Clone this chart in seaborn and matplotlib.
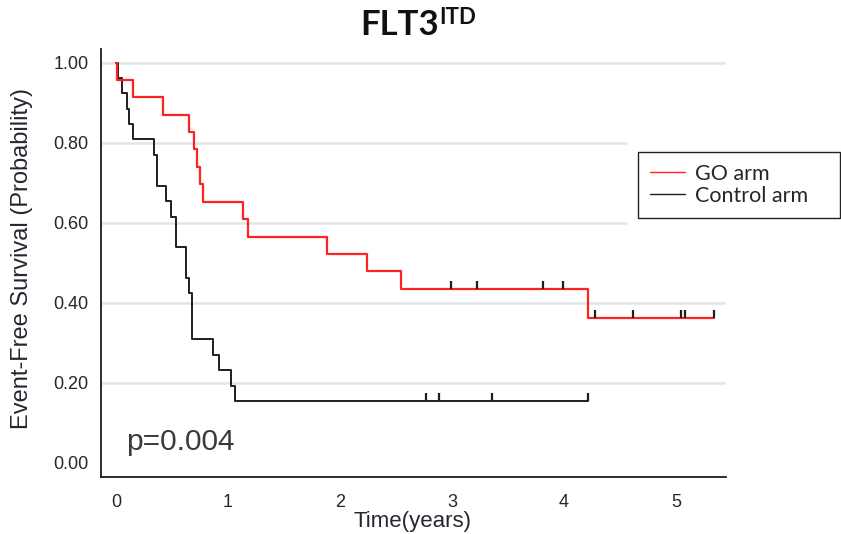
import numpy as np
import pandas as pd
import matplotlib
matplotlib.use("Agg")
import matplotlib.pyplot as plt
import seaborn as sns
from matplotlib.path import Path

# ---- data ----
go_times = [0.0, 0.005, 0.155, 0.42, 0.65, 0.70, 0.72, 0.75, 0.78, 1.13, 1.18, 1.88, 2.24, 2.54, 4.21, 5.34]
go_surv = [1.0, 0.957, 0.913, 0.870, 0.826, 0.783, 0.739, 0.696, 0.652, 0.609, 0.565, 0.522, 0.478, 0.435, 0.362, 0.362]
go_censor = [2.99, 3.22, 3.81, 3.99, 4.28, 4.62, 5.04, 5.08, 5.34]

ctrl_times = [0.0, 0.015, 0.05, 0.095, 0.12, 0.148, 0.335, 0.364, 0.45, 0.49, 0.537, 0.626, 0.656, 0.676,
              0.87, 0.92, 1.026, 1.058, 4.21]
ctrl_surv = [1.0, 0.962, 0.923, 0.885, 0.846, 0.808, 0.769, 0.692, 0.654, 0.615, 0.538, 0.462, 0.423, 0.308,
             0.269, 0.231, 0.192, 0.154, 0.154]
ctrl_censor = [2.77, 2.88, 3.36, 4.21]

series_labels = ["GO arm", "Control arm"]
x_ticks = [0, 1, 2, 3, 4, 5]
y_ticks = [0.0, 0.2, 0.4, 0.6, 0.8, 1.0]
y_ticklabels = ["0.00", "0.20", "0.40", "0.60", "0.80", "1.00"]
p_text = "p=0.004"

# ---- figure ----
sns.set_style("white")
plt.rcParams['font.family'] = ['Liberation Sans', 'DejaVu Sans']

W, H = 841, 534
fig = plt.figure(figsize=(W / 100, H / 100), dpi=100)
ax = fig.add_axes([101 / W, 1 - 477 / H, (726 - 101) / W, (477 - 49) / H])

RED = "#ff2222"
BLK = "#1e1e1e"
TXT = "#262630"

xmin, xmax = -0.134, 5.446
ymin, ymax = -0.036, 1.034

# gridlines (two stop before the legend)
grid_color = "#e4e4e4"
for yv in [1.0, 0.4, 0.2]:
    ax.hlines(yv, xmin, xmax, color=grid_color, lw=1.8, zorder=0)
for yv in [0.8, 0.6]:
    ax.hlines(yv, xmin, 4.56, color=grid_color, lw=1.8, zorder=0)

go_df = pd.DataFrame({"t": go_times, "s": go_surv})
ctrl_df = pd.DataFrame({"t": ctrl_times, "s": ctrl_surv})

sns.lineplot(data=ctrl_df, x="t", y="s", estimator=None, sort=False, drawstyle="steps-post",
             color=BLK, lw=1.4, label=series_labels[1], ax=ax, zorder=2)
sns.lineplot(data=go_df, x="t", y="s", estimator=None, sort=False, drawstyle="steps-post",
             color=RED, lw=1.6, label=series_labels[0], ax=ax, zorder=3)


def step_val(times, surv, t):
    i = np.searchsorted(times, t, side="right") - 1
    return surv[i]


tick_marker = Path([(0, 0), (0, 1)], [Path.MOVETO, Path.LINETO])
go_c = pd.DataFrame({"t": go_censor, "s": [step_val(go_times, go_surv, t) for t in go_censor]})
ctrl_c = pd.DataFrame({"t": ctrl_censor, "s": [step_val(ctrl_times, ctrl_surv, t) for t in ctrl_censor]})
for cdf in (go_c, ctrl_c):
    sns.scatterplot(data=cdf, x="t", y="s", marker=tick_marker, s=120, color=BLK,
                    edgecolor=BLK, linewidth=1.6, ax=ax, zorder=4, legend=False)

ax.set_xlim(xmin, xmax)
ax.set_ylim(ymin, ymax)
ax.set_xticks(x_ticks)
ax.set_xticklabels([str(v) for v in x_ticks])
ax.set_yticks(y_ticks)
ax.set_yticklabels(y_ticklabels)
ax.tick_params(axis="both", direction="out", width=1.3, color=BLK,
               labelsize=13, labelcolor=TXT)
ax.tick_params(axis="x", length=7, pad=5)
ax.tick_params(axis="y", length=7, pad=2)
for side in ["top", "right"]:
    ax.spines[side].set_visible(False)
for side in ["left", "bottom"]:
    ax.spines[side].set_color(BLK)
    ax.spines[side].set_linewidth(1.3)
ax.set_xlabel("")
ax.set_ylabel("")
ax.grid(False)

# axis labels
fig.text(22 / W, 1 - 258 / H, "Event-Free Survival (Probability)", rotation=90,
         ha="center", va="center", fontsize=17, color=TXT)
fig.text(413 / W, 1 - 521 / H, "Time(years)", ha="center", va="center",
         fontsize=16, color=TXT)

# p-value
ax.text(126 / W, 1 - 450 / H, p_text, transform=fig.transFigure, ha="left", va="baseline",
        fontsize=21.5, color="#3a3a3a")

# title with superscript
fig.text(360 / W, 1 - 35 / H, "FLT3", ha="left", va="baseline", fontsize=25,
         fontweight="bold", family=["Lato", "DejaVu Sans"], color="#111111")
fig.text(439 / W, 1 - 24 / H, "ITD", ha="left", va="baseline", fontsize=16,
         fontweight="bold", family=["Lato", "DejaVu Sans"], color="#111111")

# legend
handles, labels = ax.get_legend_handles_labels()
order = [labels.index(series_labels[0]), labels.index(series_labels[1])]
leg = ax.legend([handles[i] for i in order], [labels[i] for i in order],
                loc="upper left", bbox_to_anchor=(638 / W, 1 - 152 / H, (840 - 638) / W, 0),
                bbox_transform=fig.transFigure, mode="expand", frameon=True, fancybox=False,
                edgecolor="#222222", framealpha=1, borderaxespad=0,
                prop={"family": ["Lato", "DejaVu Sans"], "size": 15.5},
                handlelength=1.65, handletextpad=0.45, labelspacing=0.1,
                borderpad=0.55)
leg.get_frame().set_linewidth(1.0)
for line in leg.get_lines():
    line.set_linewidth(1.0)

fig.savefig("out.png", dpi=100)
